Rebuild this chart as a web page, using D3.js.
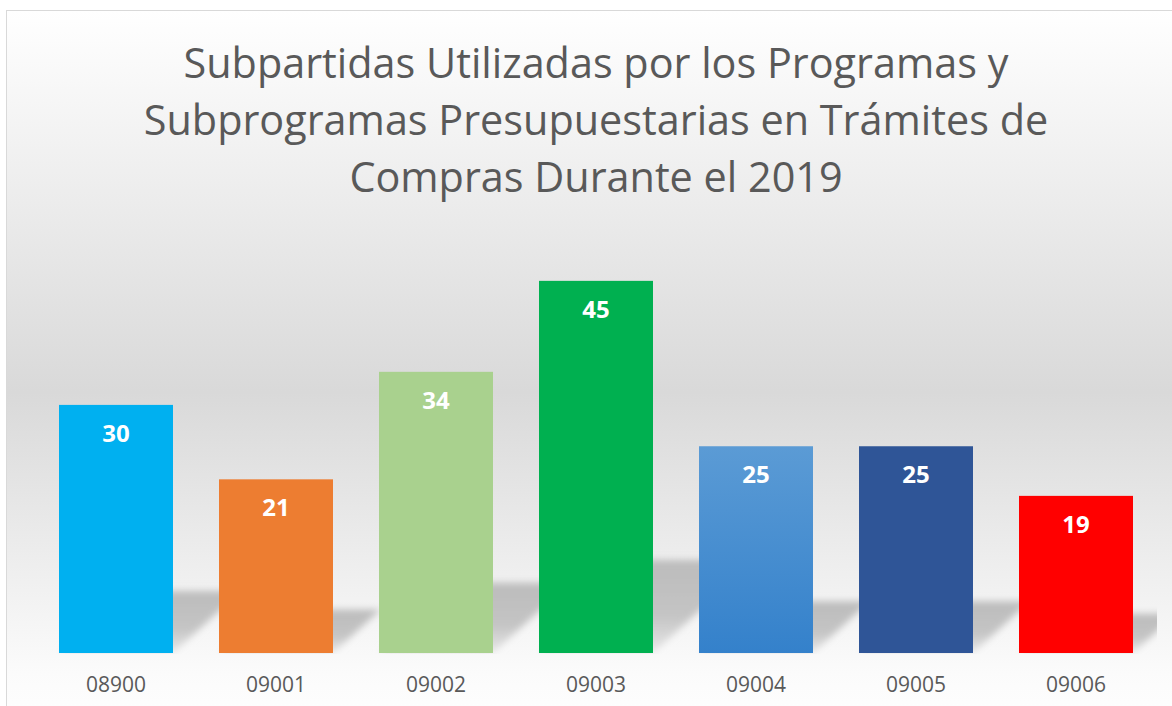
<!DOCTYPE html>
<html lang="es">
<head>
<meta charset="UTF-8">
<title>Subpartidas 2019</title>
<script src="https://cdnjs.cloudflare.com/ajax/libs/d3/7.8.5/d3.min.js"></script>
<style>
    body { margin: 0; background: #fff; }
    .title { font-family: "Open Sans", sans-serif; fill: #595959; }
    .cat { font-family: "Open Sans", sans-serif; font-size: 21px; fill: #595959; }
    .val { font-family: "Open Sans", sans-serif; font-size: 24px; font-weight: bold; fill: #fff; }
</style>
</head>
<body>
<div class="chart"></div>
<script>
    // data
    var categories = ["08900", "09001", "09002", "09003", "09004", "09005", "09006"];
    var values = [30, 21, 34, 45, 25, 25, 19];
    var colors = ["#00b0f0", "#ed7d31", "#a9d18e", "#00b050", "url(#blueGrad)", "#2f5597", "#ff0000"];
    var titleLines = [
        "Subpartidas Utilizadas por los Programas y",
        "Subprogramas Presupuestarias en Trámites de",
        "Compras Durante el 2019"
    ];

    var width = 1172, height = 706;
    var base = 653;

    var svg = d3.select(".chart").append("svg")
        .attr("width", width)
        .attr("height", height)
        .style("display", "block");

    var defs = svg.append("defs");

    var bg = defs.append("linearGradient")
        .attr("id", "bgGrad")
        .attr("x1", 0).attr("y1", 0).attr("x2", 0).attr("y2", 1);
    bg.append("stop").attr("offset", "0").attr("stop-color", "#ffffff");
    bg.append("stop").attr("offset", "0.53").attr("stop-color", "#d9d9d9");
    bg.append("stop").attr("offset", "0.92").attr("stop-color", "#fbfbfb");
    bg.append("stop").attr("offset", "1").attr("stop-color", "#ffffff");

    var blue = defs.append("linearGradient")
        .attr("id", "blueGrad")
        .attr("x1", 0).attr("y1", 0).attr("x2", 0).attr("y2", 1);
    blue.append("stop").attr("offset", "0").attr("stop-color", "#5b9bd5");
    blue.append("stop").attr("offset", "1").attr("stop-color", "#3481cb");

    // shadow gets lighter towards the floor line
    var shade = defs.append("linearGradient")
        .attr("id", "shadeGrad")
        .attr("x1", 0).attr("y1", 0).attr("x2", 0).attr("y2", 1);
    shade.append("stop").attr("offset", "0").attr("stop-color", "#bcbcbc");
    shade.append("stop").attr("offset", "0.6").attr("stop-color", "#c4c4c4");
    shade.append("stop").attr("offset", "1").attr("stop-color", "#e8e8e8");

    defs.append("filter")
        .attr("id", "blur")
        .attr("x", "-20%").attr("y", "-20%").attr("width", "140%").attr("height", "140%")
        .append("feGaussianBlur")
        .attr("stdDeviation", 3.5);

    defs.append("clipPath")
        .attr("id", "plotClip")
        .append("rect")
        .attr("x", 36).attr("y", 0)
        .attr("width", 1121).attr("height", base + 1);

    // chart area
    svg.append("rect")
        .attr("x", 6.5).attr("y", 10.5)
        .attr("width", 1200).attr("height", 720)
        .attr("fill", "url(#bgGrad)")
        .attr("stroke", "#d9d9d9")
        .attr("stroke-width", 1);

    var x = d3.scaleBand()
        .domain(categories)
        .range([36, 1156])
        .paddingInner(0.2875)
        .paddingOuter(0.14375);

    var y = d3.scaleLinear()
        .domain([0, 50])
        .range([base, base - 413.5]);

    // soft shadows cast behind the bars
    var shadowG = svg.append("g")
        .attr("clip-path", "url(#plotClip)")
        .append("g")
        .attr("filter", "url(#blur)");

    shadowG.selectAll(".shadow")
        .data(values)
        .enter()
        .append("path")
        .attr("class", "shadow")
        .attr("fill", "url(#shadeGrad)")
        .attr("d", function(d, i) {
            var x0 = x(categories[i]), x1 = x0 + x.bandwidth();
            var sh = (base - y(d)) * 0.25;
            var dx = sh * 1.1;
            return "M" + x0 + "," + base + "L" + x1 + "," + base +
                "L" + (x1 + dx) + "," + (base - sh) + "L" + (x0 + dx) + "," + (base - sh) + "Z";
        });

    // bars
    svg.selectAll(".bar")
        .data(values)
        .enter()
        .append("rect")
        .attr("class", "bar")
        .attr("x", function(d, i) { return x(categories[i]); })
        .attr("y", function(d) { return y(d); })
        .attr("width", x.bandwidth())
        .attr("height", function(d) { return base - y(d); })
        .attr("fill", function(d, i) { return colors[i]; });

    // value labels
    svg.selectAll(".val")
        .data(values)
        .enter()
        .append("text")
        .attr("class", "val")
        .attr("text-anchor", "middle")
        .attr("x", function(d, i) { return x(categories[i]) + x.bandwidth() / 2; })
        .attr("y", function(d) { return y(d) + 37; })
        .text(function(d) { return d; });

    // category axis
    var axis = svg.append("g")
        .attr("transform", "translate(0," + base + ")")
        .call(d3.axisBottom(x).tickSize(0).tickPadding(0));
    axis.select(".domain").remove();
    axis.selectAll("text")
        .attr("class", "cat")
        .attr("font-family", null)
        .attr("font-size", null)
        .attr("fill", null)
        .attr("dy", null)
        .attr("y", 39);

    // title, sized so the first line matches the reference width
    var title = svg.append("g");
    var lines = title.selectAll("text")
        .data(titleLines)
        .enter()
        .append("text")
        .attr("class", "title")
        .attr("text-anchor", "middle")
        .attr("x", 596)
        .attr("y", function(d, i) { return 78 + i * 57; })
        .style("font-size", "42px")
        .text(function(d) { return d; });
    var w = lines.node().getComputedTextLength();
    lines.style("font-size", (42 * 825 / w) + "px");
</script>
</body>
</html>
